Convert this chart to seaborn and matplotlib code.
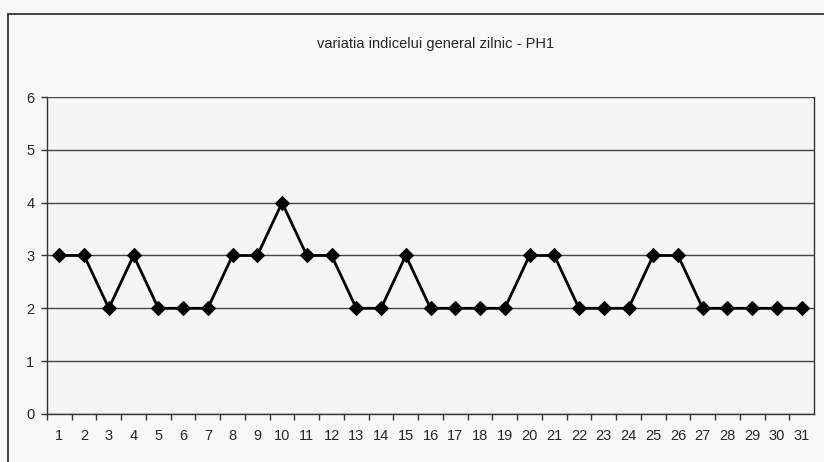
import matplotlib
matplotlib.use('Agg')
import matplotlib.pyplot as plt
import seaborn as sns
import pandas as pd
from matplotlib.patches import Rectangle

# daily general index values, PH1
days = list(range(1, 32))
values = [3, 3, 2, 3, 2, 2, 2, 3, 3, 4, 3, 3, 2, 2, 3, 2, 2, 2, 2, 3, 3, 2, 2, 2, 3, 3, 2, 2, 2, 2, 2]
yticks = [0, 1, 2, 3, 4, 5, 6]
title = 'variatia indicelui general zilnic - PH1'

df = pd.DataFrame({'zi': days, 'indice': values})

sns.set_style('white')
plt.rcParams['font.family'] = ['Liberation Sans', 'DejaVu Sans']

fig = plt.figure(figsize=(8.24, 4.62), dpi=100)
fig.patch.set_facecolor('#f8f8f8')
# outer chart frame (runs off the right and bottom edges, like the scan)
fig.patches.append(Rectangle((0.010, -0.05), 1.1, 1.02, transform=fig.transFigure,
                             fill=False, edgecolor='#333333', linewidth=1.3))

ax = fig.add_axes([0.057, 0.104, 0.931, 0.686])
ax.set_facecolor('#f5f5f5')
sns.lineplot(data=df, x='zi', y='indice', ax=ax, color='black', linewidth=2,
             marker='D', markersize=7, markeredgecolor='black')

ax.set_xlim(0.5, 31.5)
ax.set_ylim(0, 6)
ax.set_yticks(yticks)
ax.set_xticks(days)
ax.set_xticks([d + 0.5 for d in range(0, 31)], minor=True)
ax.tick_params(axis='x', which='major', length=0, labelsize=10.5, pad=11)
ax.tick_params(axis='x', which='minor', length=4, width=1, direction='out', color='#333333')
ax.tick_params(axis='y', length=4, width=1, direction='out', labelsize=10.5, color='#333333', pad=5)
ax.xaxis.set_ticks_position('bottom')
ax.yaxis.set_ticks_position('left')
ax.yaxis.grid(True, color='#444444', linewidth=1)
ax.set_axisbelow(True)
ax.set_xlabel('')
ax.set_ylabel('')
for s in ['left', 'bottom', 'right']:
    ax.spines[s].set_color('#333333')
    ax.spines[s].set_linewidth(1)
ax.spines['top'].set_visible(False)

fig.text(0.528, 0.905, title, ha='center', va='center', fontsize=10.5)

fig.savefig('out.png', dpi=100, facecolor=fig.get_facecolor())
